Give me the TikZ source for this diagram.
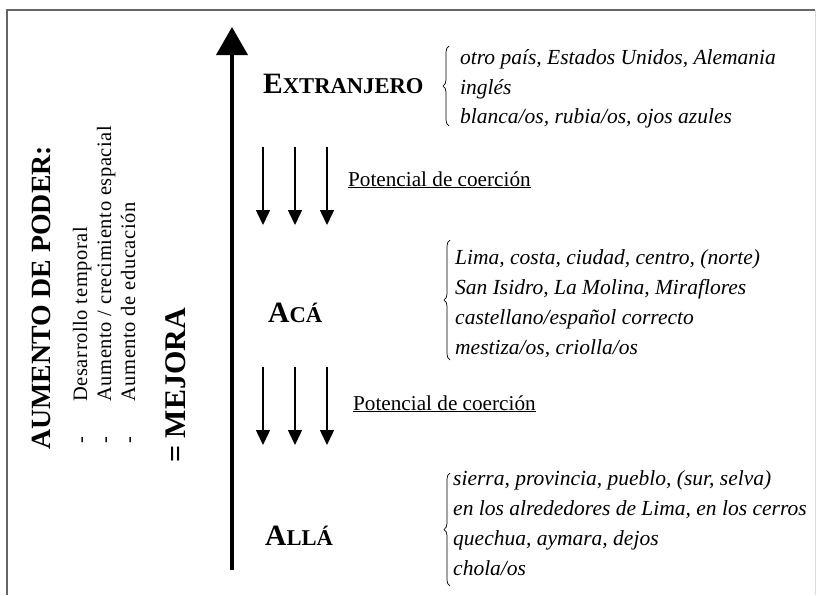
\documentclass[tikz,border=0pt]{standalone}
\usepackage{fontspec}
\setmainfont{Liberation Serif}
\usetikzlibrary{arrows.meta,decorations.pathreplacing}
\tikzset{
  level/.style={anchor=base west, inner sep=0pt, font=\bfseries},
  itemtxt/.style={anchor=base west, inner sep=0pt, font=\itshape\fontsize{21.5}{21.5}\selectfont},
  coer/.style={anchor=base west, inner sep=0pt, font=\fontsize{21.2}{21.2}\selectfont},
  sidetxt/.style={anchor=base west, inner sep=0pt, rotate=90, font=\fontsize{20.5}{20.5}\selectfont\addfontfeature{LetterSpace=3}},
  bigtxt/.style={anchor=base west, inner sep=0pt, rotate=90, font=\bfseries\fontsize{27.8}{27.8}\selectfont},
  mainarrow/.style={line width=4pt, -{Triangle[length=28pt,width=31pt]}},
  smallarrow/.style={line width=1.5pt, -{Triangle[length=15pt,width=14pt]}},
  bracestyle/.style={decorate, decoration={brace, amplitude=6pt}, line width=0.7pt},
  frame/.style={draw=black!60, line width=1.6pt}
}
\newcommand{\bigsc}[2]{{\fontsize{29.5}{29.5}\selectfont #1}{\fontsize{22.6}{22.6}\selectfont #2}}
\begin{document}
\begin{tikzpicture}[x=1pt,y=-1pt]
\useasboundingbox (0,0) rectangle (817,595);
\fill[white] (0,0) rectangle (817,595);
% frame
\draw[frame] (7,595) -- (7,10) -- (815,10);
\draw[draw=black!15, line width=0.6pt] (815,10) -- (815,595);

% main arrow
\coordinate (mainBot) at (232,570);
\coordinate (mainTop) at (232,27);
\draw[mainarrow] (mainBot) -- (mainTop);

% small arrows
\foreach \x/\n in {263/a,295/b,327/c}{
  \coordinate (s1\n) at (\x,147);
  \coordinate (e1\n) at (\x,225);
  \draw[smallarrow] (s1\n) -- (e1\n);
  \coordinate (s2\n) at (\x,367);
  \coordinate (e2\n) at (\x,445);
  \draw[smallarrow] (s2\n) -- (e2\n);
}
\node[coer] (coer1) at (348,186) {\underline{Potencial de coerción}};
\node[coer] (coer2) at (353,410) {\underline{Potencial de coerción}};

% levels
\node[level] (ext) at (263,93) {\bigsc{E}{XTRANJERO}};
\node[level] (aca) at (268,322) {\bigsc{A}{CÁ}};
\node[level] (alla) at (265,545) {\bigsc{A}{LLÁ}};

% braces
\coordinate (b1t) at (449,46);
\coordinate (b1b) at (449,126);
\draw[bracestyle] (b1b) -- (b1t);
\coordinate (b2t) at (450,240);
\coordinate (b2b) at (450,360);
\draw[bracestyle] (b2b) -- (b2t);
\coordinate (b3t) at (450,473);
\coordinate (b3b) at (450,586);
\draw[bracestyle] (b3b) -- (b3t);

% extranjero items
\node[itemtxt] (e1) at (460,64) {otro país, Estados Unidos, Alemania};
\node[itemtxt] (e2) at (460,94) {inglés};
\node[itemtxt] (e3) at (460,123) {blanca/os, rubia/os, ojos azules};
% aca items
\node[itemtxt] (a1) at (455,264) {Lima, costa, ciudad, centro, (norte)};
\node[itemtxt] (a2) at (455,294) {San Isidro, La Molina, Miraflores};
\node[itemtxt] (a3) at (455,324) {castellano/español correcto};
\node[itemtxt] (a4) at (455,354) {mestiza/os, criolla/os};
% alla items
\node[itemtxt] (l1) at (453,485) {sierra, provincia, pueblo, (sur, selva)};
\node[itemtxt] (l2) at (453,515) {en los alrededores de Lima, en los cerros};
\node[itemtxt] (l3) at (453,545) {quechua, aymara, dejos};
\node[itemtxt] (l4) at (453,575) {chola/os};

% left side
\node[bigtxt] (poder) at (50,450) {AUMENTO DE PODER:};
\node[sidetxt] (d1) at (87,444) {-};
\node[sidetxt] (t1) at (87,402) {Desarrollo temporal};
\node[sidetxt] (d2) at (111,444) {-};
\node[sidetxt] (t2) at (111,402) {Aumento / crecimiento espacial};
\node[sidetxt] (d3) at (135,444) {-};
\node[sidetxt] (t3) at (135,402) {Aumento de educación};
\node[bigtxt, font=\bfseries\fontsize{30}{30}\selectfont] (mej) at (185,463) {= MEJORA};
\end{tikzpicture}
\end{document}
